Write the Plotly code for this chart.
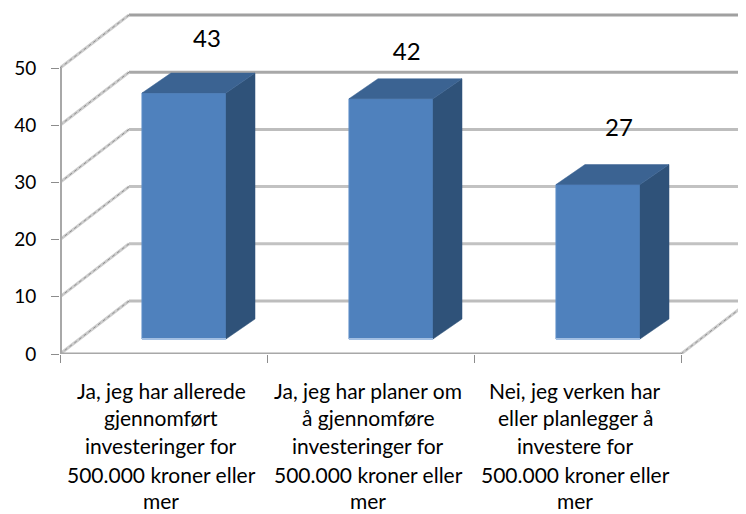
import plotly.graph_objects as go

categories = [
    ["Ja, jeg har allerede", "gjennomført", "investeringer for", "500.000 kroner eller", "mer"],
    ["Ja, jeg har planer om", "å gjennomføre", "investeringer for", "500.000 kroner eller", "mer"],
    ["Nei, jeg verken har", "eller planlegger å", "investere for", "500.000 kroner eller", "mer"],
]
values = [43, 42, 27]
y_ticks = [0, 10, 20, 30, 40, 50]

W, H = 746, 514
L, T, B = 52, 2, 168
UX, UY = 207.0, 5.72
xr = [0, (W - L) / UX]
yr = [0, (H - T - B) / UY]

wall_dx, wall_dy = 69 / UX, 53 / UY
bar_left, bar_w = 0.396, 0.406
bar_base = 15 / UY
side_dx, side_dy = 29 / UX, 20 / UY
label_dx = [0.71, 0.675, 0.70]
label_lift = [5.6, 4.4, 6.0]

shapes = []
def seg(x0, y0, x1, y1, color, width, dash="solid"):
    shapes.append(dict(type="line", xref="x", yref="y", x0=x0, y0=y0, x1=x1, y1=y1,
                       layer="below", line=dict(color=color, width=width, dash=dash)))

grid_colors = {0: "#BDBDBD", 10: "#C2C2C2", 20: "#C2C2C2", 30: "#BDBDBD", 40: "#A8A8A8", 50: "#A0A0A0"}
for v in y_ticks:
    seg(wall_dx, v + wall_dy, xr[1] + 1, v + wall_dy, grid_colors[v], 3)
    seg(0, v, wall_dx, v + wall_dy, "#CDCDCD", 3)
    seg(0, v, wall_dx, v + wall_dy, "#8E8E8E", 1, "dot")
seg(3, 0, 3 + wall_dx, wall_dy, "#CDCDCD", 3)
seg(3, 0, 3 + wall_dx, wall_dy, "#8E8E8E", 1, "dot")

fig = go.Figure()
centers = [i + bar_left + bar_w / 2 for i in range(len(values))]
fig.add_trace(go.Bar(x=centers, y=values, base=[bar_base] * len(values), width=bar_w,
                     marker=dict(color="#4F81BD", line=dict(color="#5F8FC8", width=1)),
                     showlegend=False, hoverinfo="skip"))

for i, v in enumerate(values):
    x0 = i + bar_left
    x1 = x0 + bar_w
    y0 = bar_base
    y1 = bar_base + v
    fig.add_trace(go.Scatter(x=[x1, x1 + side_dx, x1 + side_dx, x1, x1],
                             y=[y0, y0 + side_dy, y1 + side_dy, y1, y0],
                             mode="lines", fill="toself", fillcolor="#2F5279",
                             line=dict(color="#2F5279", width=0.5),
                             showlegend=False, hoverinfo="skip"))
    fig.add_trace(go.Scatter(x=[x0, x1, x1 + side_dx, x0 + side_dx, x0],
                             y=[y1, y1, y1 + side_dy, y1 + side_dy, y1],
                             mode="lines", fill="toself", fillcolor="#3B6392",
                             line=dict(color="#3B6392", width=0.5),
                             showlegend=False, hoverinfo="skip"))
    fig.add_trace(go.Scatter(x=[x0, x1], y=[y0, y0], mode="lines",
                             line=dict(color="#A3BFE2", width=2),
                             showlegend=False, hoverinfo="skip"))

fig.add_trace(go.Scatter(x=[0, 0], y=[0, y_ticks[-1]], mode="lines", cliponaxis=False,
                         line=dict(color="#A8A8A8", width=4), showlegend=False, hoverinfo="skip"))
fig.add_trace(go.Scatter(x=[0, 3], y=[0, 0], mode="lines", cliponaxis=False,
                         line=dict(color="#A8A8A8", width=3), showlegend=False, hoverinfo="skip"))

fig.add_trace(go.Scatter(
    x=[i + label_dx[i] for i in range(len(values))],
    y=[v + bar_base + side_dy + label_lift[i] for i, v in enumerate(values)],
    mode="text", text=[str(v) for v in values], textposition="middle center",
    textfont=dict(family="Lato", size=24, color="black"),
    cliponaxis=False, showlegend=False, hoverinfo="skip"))

annotations = []
line_y = [36, 63, 91, 120, 146]
for i, lines in enumerate(categories):
    for k, line in enumerate(lines):
        annotations.append(dict(x=i + 0.49, xref="x", y=0, yref="paper", yanchor="middle",
                                xanchor="center", yshift=-line_y[k], text=line, showarrow=False,
                                font=dict(family="Lato", size=21, color="black")))

fig.update_layout(
    width=W, height=H, margin=dict(l=L, r=0, t=T, b=B, autoexpand=False),
    autosize=False,
    paper_bgcolor="white", plot_bgcolor="white", showlegend=False,
    shapes=shapes, annotations=annotations,
    xaxis=dict(range=xr, showgrid=False, zeroline=False, showline=False,
               tickmode="array", tickvals=[0, 1, 2, 3], ticktext=["", "", "", ""],
               ticks="outside", ticklen=8, tickwidth=1, tickcolor="#8C8C8C"),
    yaxis=dict(range=yr, showgrid=False, zeroline=False, showline=False,
               tickmode="array", tickvals=y_ticks, ticktext=[str(t) for t in y_ticks],
               ticks="outside", ticklen=8, tickwidth=1, tickcolor="#8C8C8C",
               ticklabelstandoff=11,
               tickfont=dict(family="Lato", size=19, color="black")),
)
fig.write_html("out.html")
